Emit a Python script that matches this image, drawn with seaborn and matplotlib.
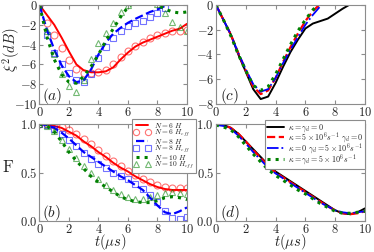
import matplotlib
matplotlib.use("Agg")
import matplotlib.pyplot as plt
import seaborn as sns
from matplotlib.ticker import FuncFormatter, MultipleLocator

# ---------------- data ----------------
t = [0.0, 0.5, 1.0, 1.5, 2.0, 2.5, 3.0, 3.5, 4.0, 4.5, 5.0,
     5.5, 6.0, 6.5, 7.0, 7.5, 8.0, 8.5, 9.0, 9.5, 10.0]

# (a) squeezing xi^2 (dB)
a_n6_H = [0, -1.0, -2.0, -3.3, -4.7, -6.0, -6.6, -6.8, -6.8, -6.7, -6.3,
          -5.5, -4.8, -4.2, -3.8, -3.5, -3.2, -2.9, -2.6, -2.4, -1.9]
a_n6_Heff = [0, -1.8, -3.0, -4.3, -5.6, -6.5, -6.9, -6.9, -6.8, -6.6, -6.0,
             -5.3, -4.6, -4.1, -3.7, -3.3, -3.0, -2.8, -2.6, -2.6, -2.5]
a_n8_H = [0, -2.5, -4.5, -6.1, -7.2, -7.8, -7.6, -6.5, -5.0, -3.8, -2.9,
          -2.3, -1.8, -1.4, -1.05, -0.7, -0.45, -0.1, 0.2, 0.4, 0.5]
a_n8_Heff = [0, -3.0, -4.8, -6.0, -6.9, -7.6, -7.8, -7.0, -5.4, -4.2, -3.3,
             -2.6, -2.1, -1.8, -1.6, -1.2, -0.8, -0.3, 0.3, 0.5, 0.6]
a_n10_H = [0, -3.2, -5.5, -7.0, -7.8, -7.9, -7.2, -6.2, -5.0, -3.6, -2.4,
           -1.2, -0.2, 0.3, 0.4, 0.3, 0.0, -0.4, -0.7, -0.8, -0.7]
a_n10_Heff = [0, -2.6, -5.0, -7.0, -8.2, -8.8, -7.6, -5.5, -3.8, -2.8, -1.8,
              -0.7, 0.0, 0.4, 0.5, 0.4, 0.1, -0.8, -1.7, -2.2, -2.6]

# (b) fidelity F
b_n6_H = [1.0, 0.995, 0.98, 0.96, 0.92, 0.88, 0.82, 0.77, 0.71, 0.66, 0.60,
          0.55, 0.51, 0.46, 0.42, 0.38, 0.35, 0.33, 0.32, 0.32, 0.32]
b_n6_Heff = [1.0, 1.0, 0.99, 0.97, 0.94, 0.90, 0.85, 0.79, 0.73, 0.67, 0.62,
             0.57, 0.52, 0.47, 0.43, 0.40, 0.37, 0.35, 0.34, 0.34, 0.34]
b_n8_H = [1.0, 0.99, 0.96, 0.91, 0.85, 0.78, 0.71, 0.66, 0.61, 0.56, 0.51,
          0.46, 0.42, 0.37, 0.32, 0.24, 0.16, 0.09, 0.07, 0.10, 0.14]
b_n8_Heff = [1.0, 0.99, 0.95, 0.90, 0.84, 0.77, 0.70, 0.64, 0.59, 0.55, 0.50,
             0.46, 0.43, 0.38, 0.33, 0.27, 0.20, 0.10, 0.03, 0.02, 0.04]
b_n10_H = [1.0, 0.98, 0.92, 0.82, 0.71, 0.62, 0.54, 0.46, 0.40, 0.35, 0.30,
           0.25, 0.22, 0.20, 0.19, 0.19, 0.21, 0.24, 0.25, 0.24, 0.22]
b_n10_Heff = [1.0, 0.98, 0.93, 0.84, 0.74, 0.65, 0.57, 0.49, 0.43, 0.37, 0.32,
              0.28, 0.25, 0.23, 0.23, 0.25, 0.27, 0.29, 0.30, 0.29, 0.28]

# (c) squeezing with decoherence
c_none = [0, -1.2, -2.4, -4.0, -5.4, -6.8, -7.6, -7.4, -6.3, -5.0, -3.8,
          -2.8, -1.9, -1.5, -1.3, -1.1, -0.7, -0.3, 0.05, 0.4, 0.6]
c_kappa = [0, -1.2, -2.4, -3.9, -5.3, -6.6, -7.2, -6.9, -5.9, -4.6, -3.4,
           -2.3, -1.3, -0.5, 0.1, 0.5, 0.8, 1.0, 1.1, 1.2, 1.2]
c_gamma = [0, -1.2, -2.4, -3.9, -5.2, -6.4, -7.0, -6.8, -5.9, -4.7, -3.6,
           -2.6, -1.6, -0.8, -0.1, 0.4, 0.7, 0.9, 1.0, 1.1, 1.1]
c_both = [0, -1.2, -2.5, -4.0, -5.3, -6.5, -6.9, -6.6, -5.6, -4.4, -3.2,
          -2.1, -1.2, -0.4, 0.2, 0.6, 0.9, 1.0, 1.1, 1.1, 1.1]

# (d) fidelity with decoherence
d_none = [1.0, 0.99, 0.96, 0.90, 0.82, 0.74, 0.66, 0.58, 0.51, 0.46, 0.41,
          0.36, 0.31, 0.26, 0.21, 0.16, 0.11, 0.08, 0.07, 0.09, 0.13]
d_kappa = [1.0, 0.99, 0.96, 0.90, 0.82, 0.73, 0.65, 0.57, 0.50, 0.45, 0.40,
           0.35, 0.30, 0.25, 0.20, 0.15, 0.11, 0.08, 0.07, 0.08, 0.10]
d_gamma = [0.99, 0.98, 0.95, 0.88, 0.80, 0.71, 0.63, 0.55, 0.49, 0.44, 0.39,
           0.34, 0.29, 0.24, 0.19, 0.15, 0.11, 0.09, 0.08, 0.09, 0.10]
d_both = [0.99, 0.97, 0.94, 0.87, 0.78, 0.69, 0.61, 0.53, 0.47, 0.42, 0.37,
          0.32, 0.28, 0.23, 0.18, 0.14, 0.10, 0.08, 0.08, 0.09, 0.10]

labels_b = [r"$N=6\ H$", r"$N=6\ H_{eff}$", r"$N=8\ H$", r"$N=8\ H_{eff}$",
            r"$N=10\ H$", r"$N=10\ H_{eff}$"]
labels_d = [r"$\kappa=\gamma_d=0$", r"$\kappa=5\times10^6s^{-1}\ \gamma_d=0$",
            r"$\kappa=0\ \gamma_d=5\times10^6s^{-1}$",
            r"$\kappa=\gamma_d=5\times10^6s^{-1}$"]

# ---------------- style ----------------
sns.set_style("ticks")
plt.rcParams["font.family"] = ["DejaVu Serif"]
plt.rcParams["mathtext.fontset"] = "cm"

fig = plt.figure(figsize=(3.74, 2.52), dpi=100)
ax_a = fig.add_axes([0.1056, 0.5873, 0.3944, 0.3929])
ax_c = fig.add_axes([0.5775, 0.5873, 0.3984, 0.3929])
ax_b = fig.add_axes([0.1056, 0.1230, 0.3944, 0.3849])
ax_d = fig.add_axes([0.5775, 0.1230, 0.3984, 0.3849])

fmt_int = FuncFormatter(lambda v, p: r"$%g$" % v if v != 0 else r"$0$")
fmt_dec = FuncFormatter(lambda v, p: r"$%.1f$" % v)

def style(ax, ylim, ystep, yfmt):
    ax.set_xlim(0, 10)
    ax.set_ylim(*ylim)
    ax.xaxis.set_major_locator(MultipleLocator(2))
    ax.yaxis.set_major_locator(MultipleLocator(ystep))
    ax.xaxis.set_major_formatter(fmt_int)
    ax.yaxis.set_major_formatter(yfmt)
    for s in ax.spines.values():
        s.set_color("0.55")
        s.set_linewidth(0.8)
    ax.tick_params(which="both", direction="in", color="0.55", length=3,
                   labelsize=9, top=True, right=True, pad=1.5)

def line(ax, y, color, ls, lw, label=None):
    sns.lineplot(x=t, y=y, ax=ax, color=color, linestyle=ls, linewidth=lw,
                 label=label, legend=False)

def marks(ax, y, color, mk, label=None):
    sns.lineplot(x=t, y=y, ax=ax, linestyle="none", marker=mk, markersize=5,
                 markerfacecolor="none", markeredgecolor=color,
                 markeredgewidth=0.8, alpha=0.55, color=color, label=label,
                 legend=False)

# (a)
line(ax_a, a_n6_H, "red", "-", 1.4)
marks(ax_a, a_n6_Heff, "red", "o")
line(ax_a, a_n8_H, "blue", "--", 1.6)
marks(ax_a, a_n8_Heff, "blue", "s")
line(ax_a, a_n10_H, "green", ":", 2.2)
marks(ax_a, a_n10_Heff, "green", "^")
style(ax_a, (-10, 0), 2, fmt_int)
ax_a.set_ylabel(r"$\xi^2(dB)$", fontsize=10.5)
ax_a.yaxis.set_label_coords(-0.12, 0.55)
ax_a.text(0.02, 0.04, r"$(a)$", transform=ax_a.transAxes, fontsize=11)

# (b)
line(ax_b, b_n6_H, "red", "-", 1.4, labels_b[0])
marks(ax_b, b_n6_Heff, "red", "o", labels_b[1])
line(ax_b, b_n8_H, "blue", "--", 1.6, labels_b[2])
marks(ax_b, b_n8_Heff, "blue", "s", labels_b[3])
line(ax_b, b_n10_H, "green", ":", 2.2, labels_b[4])
marks(ax_b, b_n10_Heff, "green", "^", labels_b[5])
style(ax_b, (0, 1), 0.5, fmt_dec)
ax_b.set_ylabel(r"$\mathrm{F}$", fontsize=12, rotation=0)
ax_b.yaxis.set_label_coords(-0.215, 0.46)
ax_b.set_xlabel(r"$t(\mu s)$", fontsize=10.5)
ax_b.xaxis.set_label_coords(0.48, -0.11)
ax_b.text(0.02, 0.04, r"$(b)$", transform=ax_b.transAxes, fontsize=11)
leg_b = ax_b.legend(loc="upper right",
                    bbox_to_anchor=(0.5, 0.5, 0.56, 0.555),
                    fontsize=5.4, numpoints=2, handlelength=2.2,
                    handleheight=0.4, markerscale=0.9,
                    labelspacing=-0.3, borderpad=0.25, handletextpad=0.5,
                    borderaxespad=0, fancybox=False, framealpha=1,
                    edgecolor="0.55")
leg_b.get_frame().set_linewidth(0.8)
leg_b.set_zorder(20)

# (c)
line(ax_c, c_none, "black", "-", 1.4)
line(ax_c, c_kappa, "red", "--", 1.6)
line(ax_c, c_gamma, "blue", "-.", 1.3)
line(ax_c, c_both, "green", ":", 2.2)
style(ax_c, (-8, 0), 2, fmt_int)
ax_c.text(0.03, 0.04, r"$(c)$", transform=ax_c.transAxes, fontsize=11)

# (d)
line(ax_d, d_none, "black", "-", 1.4, labels_d[0])
line(ax_d, d_kappa, "red", "--", 1.6, labels_d[1])
line(ax_d, d_gamma, "blue", "-.", 1.3, labels_d[2])
line(ax_d, d_both, "green", ":", 2.2, labels_d[3])
style(ax_d, (0, 1), 0.5, fmt_dec)
ax_d.set_xlabel(r"$t(\mu s)$", fontsize=10.5)
ax_d.xaxis.set_label_coords(0.5, -0.11)
ax_d.text(0.03, 0.04, r"$(d)$", transform=ax_d.transAxes, fontsize=11)
leg_d = ax_d.legend(loc="upper right",
                    bbox_to_anchor=(0.3, 0.5, 0.7, 0.54),
                    fontsize=5.8, handlelength=2.0, handleheight=0.4,
                    labelspacing=-0.45,
                    borderpad=0.25, handletextpad=0.5, borderaxespad=0,
                    fancybox=False, framealpha=1, edgecolor="0.55")
leg_d.get_frame().set_linewidth(0.8)

fig.savefig("out.png", dpi=100)
